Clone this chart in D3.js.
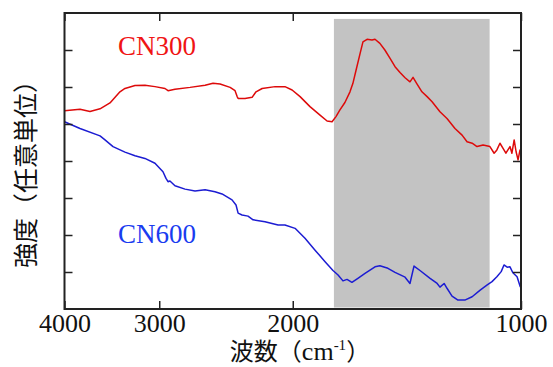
<!DOCTYPE html>
<html>
<head>
<meta charset="utf-8">
<script src="https://cdn.jsdelivr.net/npm/d3@7"></script>
<style>
  body { margin: 0; background: #fff; }
</style>
</head>
<body>
<div id="chart"></div>
<script>
// wavenumber (cm-1) / intensity (arb. units)
const cn300Wave = [4000, 3816, 3702, 3591, 3484, 3380, 3329, 3229, 3133, 3039, 2948, 2921, 2860, 2732, 2610, 2548, 2494, 2419, 2383, 2368, 2361, 2312, 2263, 2236, 2195, 2110, 2048, 2004, 1956, 1898, 1841, 1802, 1775, 1754, 1733, 1707, 1681, 1666, 1650, 1630, 1616, 1596, 1572, 1558, 1535, 1512, 1489, 1466, 1444, 1422, 1401, 1388, 1371, 1351, 1330, 1310, 1279, 1252, 1222, 1196, 1178, 1160, 1143, 1122, 1099, 1085, 1076, 1066, 1056, 1047, 1034, 1028, 1021, 1015, 1009, 1003, 1000];
const cn300Int = [5.36, 5.40, 5.34, 5.41, 5.57, 5.87, 5.96, 6.04, 6.05, 6.01, 5.96, 5.90, 5.94, 5.99, 6.05, 6.10, 6.08, 5.99, 5.90, 5.74, 5.69, 5.69, 5.72, 5.87, 5.96, 6.01, 6.01, 5.92, 5.74, 5.47, 5.24, 5.08, 5.06, 5.20, 5.38, 5.58, 5.87, 6.10, 6.46, 6.91, 7.22, 7.29, 7.27, 7.29, 7.18, 7.00, 6.78, 6.55, 6.39, 6.25, 6.14, 6.26, 6.08, 5.87, 5.74, 5.60, 5.33, 5.15, 4.88, 4.70, 4.52, 4.48, 4.39, 4.43, 4.39, 4.21, 4.30, 4.48, 4.34, 4.21, 4.39, 4.21, 4.57, 4.25, 4.03, 4.30, 4.24];

const cn600Wave = [4000, 3816, 3591, 3537, 3452, 3329, 3229, 3133, 3039, 2966, 2939, 2921, 2904, 2860, 2774, 2691, 2610, 2533, 2479, 2405, 2376, 2361, 2333, 2291, 2256, 2176, 2091, 2048, 1986, 1927, 1869, 1813, 1770, 1743, 1717, 1696, 1671, 1641, 1606, 1558, 1535, 1498, 1466, 1422, 1401, 1384, 1359, 1318, 1290, 1279, 1263, 1252, 1233, 1211, 1186, 1160, 1132, 1108, 1092, 1076, 1062, 1053, 1043, 1034, 1025, 1012, 1003, 1000];
const cn600Int = [5.06, 4.88, 4.68, 4.57, 4.39, 4.24, 4.14, 4.07, 3.94, 3.71, 3.53, 3.44, 3.46, 3.33, 3.24, 3.19, 3.22, 3.17, 3.11, 2.95, 2.81, 2.59, 2.54, 2.51, 2.41, 2.36, 2.27, 2.27, 2.18, 1.91, 1.59, 1.28, 1.04, 0.92, 0.76, 0.80, 0.72, 0.83, 0.96, 1.14, 1.17, 1.10, 0.99, 0.86, 0.69, 1.16, 1.04, 0.83, 0.69, 0.59, 0.69, 0.56, 0.35, 0.24, 0.24, 0.33, 0.51, 0.65, 0.74, 0.87, 1.01, 1.19, 1.13, 1.14, 0.98, 0.87, 0.62, 0.57];

const xTicks = [4000, 3000, 2000, 1000];
const yTicks = [1, 2, 3, 4, 5, 6, 7];
const shadedRange = [1765, 1100];
const shadedInt = [0.04, 7.84];

const width = 553, height = 367;
const margin = {top: 13, right: 32, bottom: 58, left: 64.5};
const serif = "'Liberation Serif', 'Times New Roman', serif";
const cjk = "'Noto Sans CJK JP', sans-serif";

const svg = d3.select("#chart").append("svg")
    .attr("width", width).attr("height", height);

const x = d3.scaleLog().domain([4000, 1000]).range([margin.left, width - margin.right]);
const y = d3.scaleLinear().domain([0, 8]).range([height - margin.bottom, margin.top]);

// shaded band
svg.append("rect")
    .attr("x", x(shadedRange[0]))
    .attr("y", y(shadedInt[1]))
    .attr("width", x(shadedRange[1]) - x(shadedRange[0]))
    .attr("height", y(shadedInt[0]) - y(shadedInt[1]))
    .attr("fill", "#c3c3c3");

const line = d3.line().x(d => x(d[0])).y(d => y(d[1]));

svg.append("path")
    .datum(d3.zip(cn300Wave, cn300Int))
    .attr("fill", "none").attr("stroke", "#dd0a0a").attr("stroke-width", 1.5)
    .attr("stroke-linejoin", "round")
    .attr("d", line);

svg.append("path")
    .datum(d3.zip(cn600Wave, cn600Int))
    .attr("fill", "none").attr("stroke", "#1c1cd2").attr("stroke-width", 1.5)
    .attr("stroke-linejoin", "round")
    .attr("d", line);

// axes: ticks point inward on all four sides
const axBottom = svg.append("g")
    .attr("transform", `translate(0,${y(0)})`)
    .call(d3.axisBottom(x).tickValues(xTicks).tickFormat(d3.format("d")).tickSizeInner(-8).tickSizeOuter(0).tickPadding(5));
const axTop = svg.append("g")
    .attr("transform", `translate(0,${y(8)})`)
    .call(d3.axisTop(x).tickValues(xTicks).tickFormat("").tickSizeInner(-8).tickSizeOuter(0));
const axLeft = svg.append("g")
    .attr("transform", `translate(${x(4000)},0)`)
    .call(d3.axisLeft(y).tickValues(yTicks).tickFormat("").tickSizeInner(-8).tickSizeOuter(0));
const axRight = svg.append("g")
    .attr("transform", `translate(${x(1000)},0)`)
    .call(d3.axisRight(y).tickValues(yTicks).tickFormat("").tickSizeInner(-8).tickSizeOuter(0));

[axBottom, axTop, axLeft, axRight].forEach(g => {
    g.select(".domain").remove();
    g.selectAll(".tick line").attr("stroke", "#222").attr("stroke-width", 1.5);
});
axBottom.selectAll(".tick text")
    .attr("font-family", serif).attr("font-size", 26).attr("fill", "#111");

// frame
svg.append("rect")
    .attr("x", x(4000)).attr("y", y(8))
    .attr("width", x(1000) - x(4000)).attr("height", y(0) - y(8))
    .attr("fill", "none").attr("stroke", "#222").attr("stroke-width", 2);

// series labels
svg.append("text").attr("x", 118).attr("y", 55)
    .attr("font-family", serif).attr("font-size", 27).attr("fill", "#f01414")
    .text("CN300");
svg.append("text").attr("x", 118).attr("y", 243)
    .attr("font-family", serif).attr("font-size", 27).attr("fill", "#1a3cf0")
    .text("CN600");

// x title
const xt = svg.append("text").attr("x", 300).attr("y", 360)
    .attr("text-anchor", "middle").attr("font-size", 24).attr("fill", "#111");
xt.append("tspan").attr("font-family", cjk).text("波数（");
xt.append("tspan").attr("font-family", serif).attr("font-size", 26).text("cm");
xt.append("tspan").attr("font-family", serif).attr("font-size", 15).attr("dy", -10).text("-1");
xt.append("tspan").attr("font-family", cjk).attr("dy", 10).text("）");

// y title
svg.append("text")
    .attr("transform", "translate(35,168) rotate(-90)")
    .attr("text-anchor", "middle")
    .attr("font-family", cjk).attr("font-size", 25).attr("fill", "#111")
    .text("強度（任意単位）");
</script>
</body>
</html>
